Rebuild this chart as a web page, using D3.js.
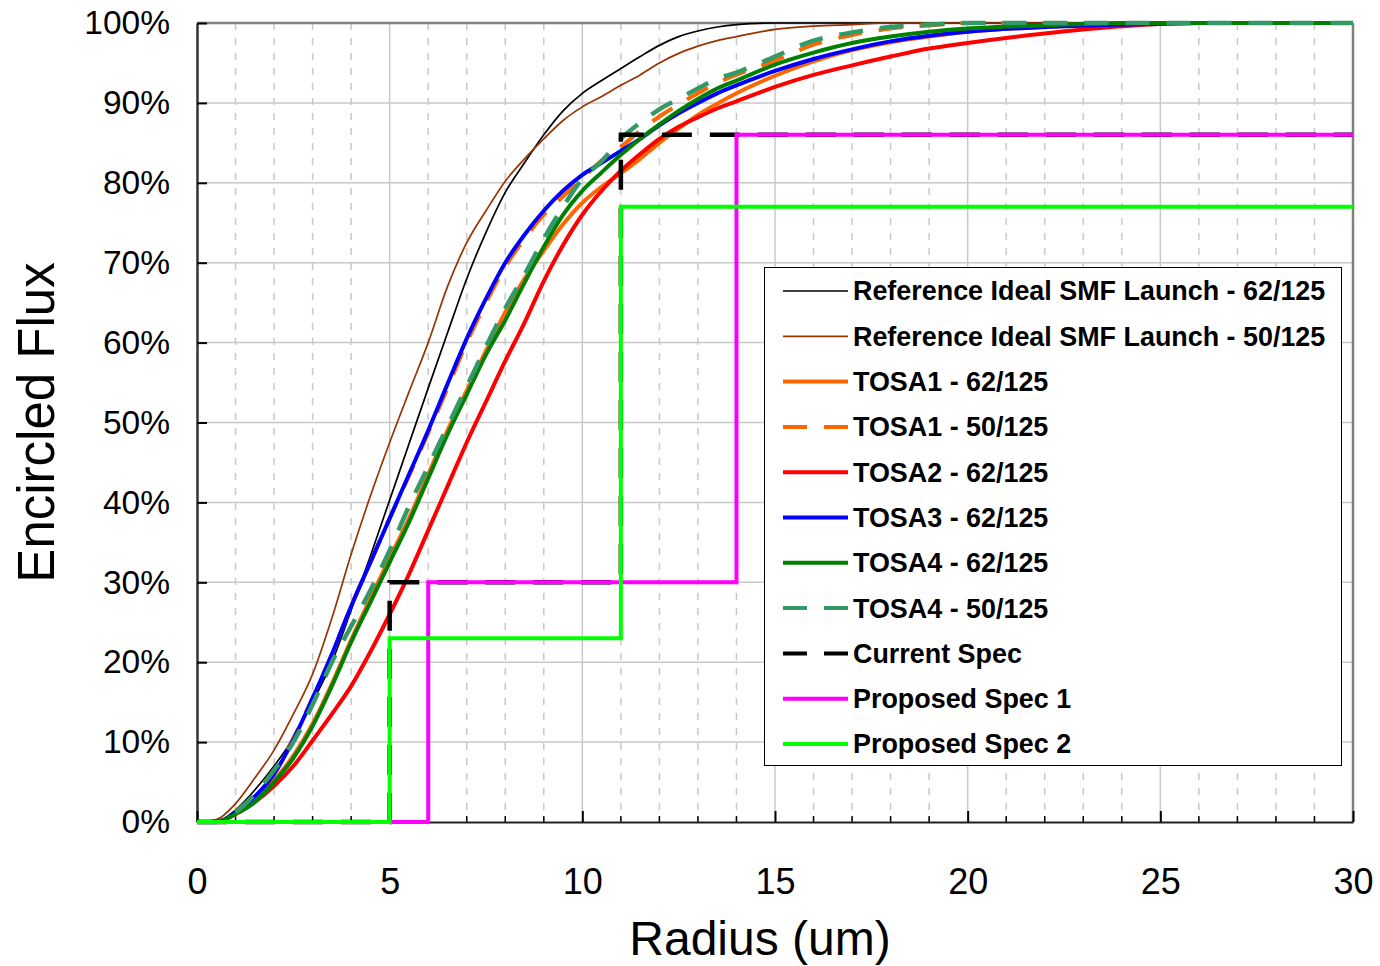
<!DOCTYPE html>
<html>
<head>
<meta charset="utf-8">
<script src="https://cdn.jsdelivr.net/npm/d3@7"></script>
<style>
  body { margin: 0; background: #fff; }
  svg { font-family: Arial, "Liberation Sans", sans-serif; }
</style>
</head>
<body>
<div id="chart"></div>
<script>
// radius samples (um) shared by all measured curves
var radius = [0, 0.5, 1, 1.5, 2, 2.5, 3, 3.5, 4, 4.5, 5, 5.5, 6, 6.5, 7, 7.5, 8, 8.5, 9, 9.5,
              10, 10.5, 11, 11.5, 12, 12.5, 13, 13.5, 14, 15, 16, 17, 18, 19, 20, 22, 24, 26, 28, 30];

// encircled flux, %
var ref62   = [0, 0, 1.5, 4, 7, 10.5, 15, 20, 26.5, 33.3, 40.3, 47.3, 54.3, 61.2, 68, 73.8, 78.8, 82.5, 86, 89,
               91.2, 92.8, 94.3, 95.8, 97.2, 98.3, 99, 99.5, 99.8, 100, 100, 100, 100, 100, 100, 100, 100, 100, 100, 100];
var ref50   = [0, 0.3, 2.3, 5.5, 9, 13.5, 18.5, 25.5, 33.5, 40.8, 47.5, 53.8, 60, 67, 72.5, 76.5, 80.2, 83, 85.5, 87.8,
               89.5, 90.8, 92.2, 93.5, 95, 96.2, 97.1, 97.8, 98.3, 99.2, 99.6, 99.8, 100, 100, 100, 100, 100, 100, 100, 100];
var tosa1_62 = [0, 0, 1, 2.7, 5.2, 8.3, 12.3, 17.3, 22.8, 28, 33, 38, 43.5, 49, 54, 59, 63.8, 68, 71.5, 74.8,
               77.5, 79.5, 81.2, 83, 85, 86.8, 88.5, 89.9, 91.2, 93.4, 95.2, 96.6, 97.6, 98.3, 98.9, 99.5, 99.8, 100, 100, 100];
var tosa1_50 = [0, 0, 1.3, 3.4, 6.3, 10.5, 15.5, 21, 27, 32.5, 38, 43.3, 48.7, 54.3, 60, 65, 69.5, 73, 76, 78.3,
               80.5, 82.8, 84.5, 86.5, 88.3, 89.8, 91.2, 92.5, 93.5, 95.3, 97.3, 98.5, 99.3, 99.7, 100, 100, 100, 100, 100, 100];
var tosa2_62 = [0, 0, 1, 2.5, 4.5, 7, 10.2, 13.5, 17, 21.3, 26, 31, 36.5, 42, 47.5, 52.6, 57.7, 62.5, 67.7, 72.2,
               76, 79, 81.5, 83.6, 85.5, 87, 88.2, 89.3, 90.2, 92, 93.5, 94.7, 95.8, 96.8, 97.5, 98.7, 99.6, 100, 100, 100];
var tosa3_62 = [0, 0, 1.2, 3.2, 6, 10.3, 15.5, 21, 27, 32.5, 38, 43.5, 49, 54.8, 60.5, 65.5, 70, 73.5, 76.5, 79,
               81, 82.5, 84, 85.5, 87.2, 88.7, 90, 91.2, 92.2, 94, 95.5, 96.7, 97.7, 98.4, 98.9, 99.5, 99.8, 100, 100, 100];
var tosa4_62 = [0, 0, 1, 2.5, 5, 8, 12, 17, 22.5, 27.5, 32.5, 37.5, 43, 48.5, 53.5, 58.5, 62.8, 67.5, 72, 76,
               79, 81.3, 83.5, 85.5, 87.3, 89, 90.5, 91.8, 92.8, 94.8, 96.3, 97.5, 98.3, 98.9, 99.3, 99.7, 100, 100, 100, 100];
var tosa4_50 = [0, 0, 1.2, 3.5, 6.5, 10, 14.7, 20, 24.5, 29, 34, 39.5, 44.5, 49.5, 54.5, 59.5, 64.3, 68.5, 73, 77,
               80.5, 82.7, 85.5, 87.5, 89.2, 90.5, 91.8, 93, 93.8, 95.8, 97.8, 98.8, 99.5, 99.8, 100, 100, 100, 100, 100, 100];

// spec masks: [radius, flux %]
var currentSpec = [[0, 0], [5, 0], [5, 30], [11, 30], [11, 86], [30, 86]];
var proposed1   = [[0, 0], [6, 0], [6, 30], [14, 30], [14, 86], [30, 86]];
var proposed2   = [[0, 0], [5, 0], [5, 23], [11, 23], [11, 77], [30, 77]];

var xTicks = [0, 5, 10, 15, 20, 25, 30];
var yTicks = [0, 10, 20, 30, 40, 50, 60, 70, 80, 90, 100];

function pairs(vals) {
    return radius.map(function (r, i) { return [r, vals[i]]; });
}

var series = [
    { name: "Reference Ideal SMF Launch - 62/125", pts: pairs(ref62),    color: "#000000", width: 1.7, dash: null },
    { name: "Reference Ideal SMF Launch - 50/125", pts: pairs(ref50),    color: "#993300", width: 1.7, dash: null },
    { name: "TOSA1 - 62/125",                      pts: pairs(tosa1_62), color: "#FF6600", width: 4, dash: null },
    { name: "TOSA1 - 50/125",                      pts: pairs(tosa1_50), color: "#FF6600", width: 4, dash: "24,17" },
    { name: "TOSA2 - 62/125",                      pts: pairs(tosa2_62), color: "#FF0000", width: 4, dash: null },
    { name: "TOSA3 - 62/125",                      pts: pairs(tosa3_62), color: "#0000FF", width: 4, dash: null },
    { name: "TOSA4 - 62/125",                      pts: pairs(tosa4_62), color: "#008000", width: 4, dash: null },
    { name: "TOSA4 - 50/125",                      pts: pairs(tosa4_50), color: "#339966", width: 4.5, dash: "24,17" },
    { name: "Current Spec",                        pts: currentSpec,     color: "#000000", width: 4.5, dash: "30,18", linear: true },
    { name: "Proposed Spec 1",                     pts: proposed1,       color: "#FF00FF", width: 4, dash: null, linear: true },
    { name: "Proposed Spec 2",                     pts: proposed2,       color: "#00FF00", width: 4, dash: null, linear: true }
];

var W = 1380, H = 966;
var pLeft = 197, pRight = 1353, pTop = 23, pBottom = 822;

var svg = d3.select("#chart").append("svg")
    .attr("width", W)
    .attr("height", H);

var x = d3.scaleLinear().domain([0, 30]).range([pLeft, pRight]);
var y = d3.scaleLinear().domain([0, 100]).range([pBottom, pTop]);

// grid
svg.append("g").selectAll("line")
    .data(d3.range(1, 30))
    .enter().append("line")
    .attr("x1", function (d) { return x(d); })
    .attr("x2", function (d) { return x(d); })
    .attr("y1", pTop)
    .attr("y2", pBottom)
    .style("stroke", "#c8c8c8")
    .style("stroke-width", 1.5)
    .style("stroke-dasharray", function (d) { return d % 5 == 0 ? null : "7,8"; });

svg.append("g").selectAll("line")
    .data(yTicks.slice(1, -1))
    .enter().append("line")
    .attr("x1", pLeft)
    .attr("x2", pRight)
    .attr("y1", function (d) { return y(d); })
    .attr("y2", function (d) { return y(d); })
    .style("stroke", "#c8c8c8")
    .style("stroke-width", 1.5);

// frame top/right
svg.append("line").attr("x1", pLeft).attr("x2", pRight).attr("y1", pTop).attr("y2", pTop)
    .style("stroke", "#808080").style("stroke-width", 2.5);
svg.append("line").attr("x1", pRight).attr("x2", pRight).attr("y1", pTop).attr("y2", pBottom)
    .style("stroke", "#808080").style("stroke-width", 2.5);

// axes
var yAxis = svg.append("g")
    .attr("transform", "translate(" + pLeft + ",0)")
    .call(d3.axisLeft(y).tickValues(yTicks).tickSize(-10).tickPadding(27).tickSizeOuter(0)
        .tickFormat(function (d) { return d + "%"; }));
yAxis.select(".domain").style("stroke", "#333").style("stroke-width", 2.5);
yAxis.selectAll(".tick line").style("stroke", "#000").style("stroke-width", 2);
yAxis.selectAll("text").style("font-size", "33.5px").style("fill", "#000")
    .style("font-family", "Arial, 'Liberation Sans', sans-serif");

// minor x ticks
svg.append("g").selectAll("line")
    .data(d3.range(1, 30).filter(function (d) { return d % 5 != 0; }))
    .enter().append("line")
    .attr("x1", function (d) { return x(d); })
    .attr("x2", function (d) { return x(d); })
    .attr("y1", pBottom)
    .attr("y2", pBottom - 6)
    .style("stroke", "#000")
    .style("stroke-width", 1.5);

var xAxis = svg.append("g")
    .attr("transform", "translate(0," + pBottom + ")")
    .call(d3.axisBottom(x).tickValues(xTicks).tickSize(-11).tickPadding(46).tickSizeOuter(0));
xAxis.select(".domain").style("stroke", "#222").style("stroke-width", 2);
xAxis.selectAll(".tick line").style("stroke", "#000").style("stroke-width", 2);
xAxis.selectAll("text").style("font-size", "36px").style("fill", "#000")
    .style("font-family", "Arial, 'Liberation Sans', sans-serif");

// axis titles
svg.append("text")
    .attr("x", 760)
    .attr("y", 955)
    .attr("text-anchor", "middle")
    .style("font-size", "48px")
    .text("Radius (um)");

svg.append("text")
    .attr("transform", "translate(54," + ((pTop + pBottom) / 2) + ") rotate(-90)")
    .attr("text-anchor", "middle")
    .style("font-size", "51px")
    .text("Encircled Flux");

// curves
var smooth = d3.line()
    .x(function (d) { return x(d[0]); })
    .y(function (d) { return y(d[1]); })
    .curve(d3.curveMonotoneX);
var straight = d3.line()
    .x(function (d) { return x(d[0]); })
    .y(function (d) { return y(d[1]); });

svg.append("g").selectAll("path")
    .data(series)
    .enter().append("path")
    .attr("d", function (d) { return d.linear ? straight(d.pts) : smooth(d.pts); })
    .style("fill", "none")
    .style("stroke", function (d) { return d.color; })
    .style("stroke-width", function (d) { return d.width; })
    .style("stroke-dasharray", function (d) { return d.dash; })
    .style("stroke-linejoin", "miter");

// legend
var lg = svg.append("g");
lg.append("rect")
    .attr("x", 764.5).attr("y", 267.5)
    .attr("width", 577).attr("height", 498)
    .style("fill", "#fff")
    .style("stroke", "#000")
    .style("stroke-width", 1);

var rows = lg.selectAll(".row")
    .data(series)
    .enter().append("g")
    .attr("class", "row")
    .attr("transform", function (d, i) { return "translate(0," + (291 + i * 45.3) + ")"; });

rows.append("line")
    .attr("x1", 783).attr("x2", 848)
    .attr("y1", 0).attr("y2", 0)
    .style("stroke", function (d) { return d.color; })
    .style("stroke-width", function (d) { return Math.min(d.width, 4); })
    .style("stroke-dasharray", function (d) { return d.dash ? "24,17" : null; });

rows.append("text")
    .attr("x", 853)
    .attr("y", 0)
    .attr("dy", "0.35em")
    .style("font-size", "26.9px")
    .style("font-weight", "bold")
    .text(function (d) { return d.name; });
</script>
</body>
</html>
